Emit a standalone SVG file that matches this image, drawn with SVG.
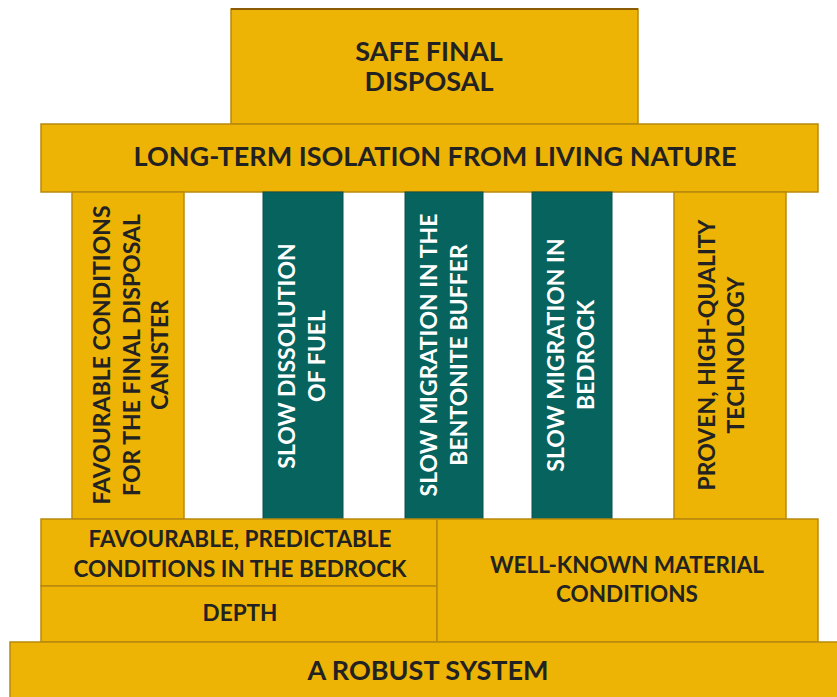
<svg xmlns="http://www.w3.org/2000/svg" width="837" height="697" viewBox="0 0 837 697">
<style>
.y{fill:#EDB305;stroke:#B8890C;stroke-width:1.5}
.t{fill:#07635E;stroke:#0A4F4A;stroke-width:1}
text{font-family:Lato,"Open Sans","Liberation Sans",sans-serif;font-weight:700;text-anchor:middle}
.d{fill:#222222}
.w{fill:#FFFFFF}
.l{font-size:27px}
.m{font-size:23px}
.s{font-size:22.5px}
</style>
<rect width="837" height="697" fill="#FFFFFF"/>
<g id="top">
<rect class="y" x="231" y="9" width="407" height="115"/>
<line x1="231" y1="9" x2="638" y2="9" stroke="#8A5A05" stroke-width="2"/>
<text class="d l" x="429" y="61">SAFE FINAL</text>
<text class="d l" x="429" y="91">DISPOSAL</text>
</g>
<g id="isolation">
<rect class="y" x="41" y="124" width="777" height="68"/>
<text class="d l" x="435" y="166">LONG-TERM ISOLATION FROM LIVING NATURE</text>
</g>
<g id="pillar1">
<rect class="y" x="72" y="192" width="112" height="327"/>
<g transform="translate(128,355) rotate(-90)">
<text class="d m" x="0" y="-18">FAVOURABLE CONDITIONS</text>
<text class="d m" x="0" y="12">FOR THE FINAL DISPOSAL</text>
<text class="d m" x="0" y="40">CANISTER</text>
</g>
</g>
<g id="pillar2">
<rect class="t" x="263" y="192" width="80" height="327"/>
<g transform="translate(303,356) rotate(-90)">
<text class="w m" x="0" y="-8">SLOW DISSOLUTION</text>
<text class="w m" x="0" y="22">OF FUEL</text>
</g>
</g>
<g id="pillar3">
<rect class="t" x="405" y="192" width="78" height="327"/>
<g transform="translate(444,355) rotate(-90)">
<text class="w m" x="0" y="-7">SLOW MIGRATION IN THE</text>
<text class="w m" x="0" y="23">BENTONITE BUFFER</text>
</g>
</g>
<g id="pillar4">
<rect class="t" x="532" y="192" width="80" height="327"/>
<g transform="translate(572,355) rotate(-90)">
<text class="w m" x="0" y="-8">SLOW MIGRATION IN</text>
<text class="w m" x="0" y="22">BEDROCK</text>
</g>
</g>
<g id="pillar5">
<rect class="y" x="674" y="192" width="112" height="327"/>
<g transform="translate(730,355) rotate(-90)">
<text class="d m" x="0" y="-15">PROVEN, HIGH-QUALITY</text>
<text class="d m" x="0" y="14">TECHNOLOGY</text>
</g>
</g>
<g id="bedrock">
<rect class="y" x="41" y="519" width="396" height="67"/>
<text class="d s" x="240" y="547">FAVOURABLE, PREDICTABLE</text>
<text class="d s" x="240" y="577">CONDITIONS IN THE BEDROCK</text>
</g>
<g id="depth">
<rect class="y" x="41" y="586" width="396" height="56"/>
<text class="d s" x="240" y="621">DEPTH</text>
</g>
<g id="material">
<rect class="y" x="437" y="519" width="381" height="123"/>
<text class="d s" x="627" y="573">WELL-KNOWN MATERIAL</text>
<text class="d s" x="627" y="602">CONDITIONS</text>
</g>
<g id="robust">
<rect class="y" x="10" y="642" width="830" height="58"/>
<text class="d l" x="428" y="680">A ROBUST SYSTEM</text>
</g>
<g id="connectors"></g>
</svg>
